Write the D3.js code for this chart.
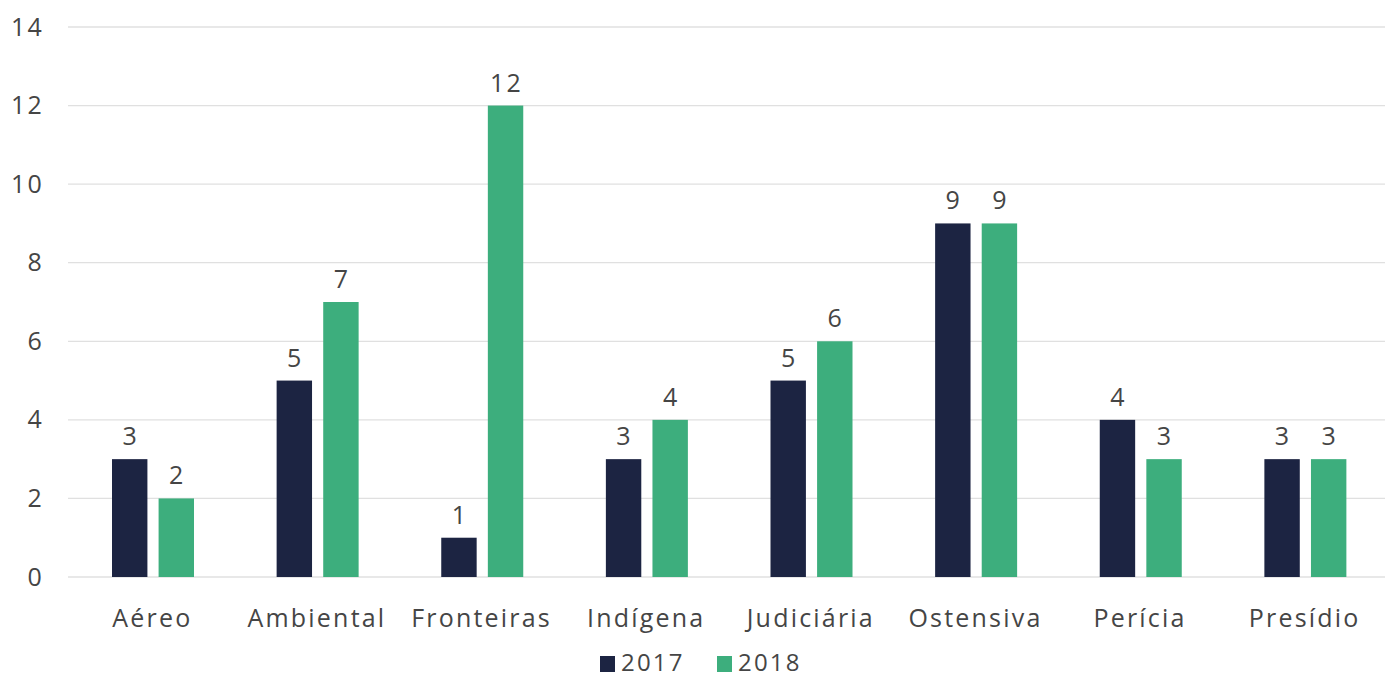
<!DOCTYPE html>
<html>
<head>
<meta charset="utf-8">
<script src="https://cdn.jsdelivr.net/npm/d3@7"></script>
<style>
  body { margin: 0; background: #fff; }
  text { font-family: "Open Sans", "Noto Sans", sans-serif; fill: #454545; letter-spacing: 2.2px; }
</style>
</head>
<body>
<div class="chart"></div>
<script>
// data
const categories = ["Aéreo", "Ambiental", "Fronteiras", "Indígena", "Judiciária", "Ostensiva", "Perícia", "Presídio"];
const years = ["2017", "2018"];
const values2017 = [3, 5, 1, 3, 5, 9, 4, 3];
const values2018 = [2, 7, 12, 4, 6, 9, 3, 3];
const yTicks = [0, 2, 4, 6, 8, 10, 12, 14];
const colors = ["#1c2442", "#3dae7d"];

const outerWidth = 1391, outerHeight = 678;
const margin = {top: 27, right: 6, bottom: 101, left: 68};
const width = outerWidth - margin.left - margin.right;
const height = outerHeight - margin.top - margin.bottom;

const svg = d3.select('.chart').append('svg')
    .attr('width', outerWidth)
    .attr('height', outerHeight)
    .append('g')
    .attr('transform', `translate(${margin.left},${margin.top})`);

const xScale = d3.scaleBand()
    .domain(categories)
    .range([0, width])
    .paddingInner(0)
    .paddingOuter(0);

const x1 = d3.scaleBand()
    .domain(years)
    .range([44, 126])
    .paddingInner(0.24);

const yScale = d3.scaleLinear()
    .domain([0, 14])
    .range([height, 0]);

// grid
svg.append('g')
    .selectAll('line')
    .data(yTicks)
    .join('line')
    .attr('x1', 0)
    .attr('x2', width)
    .attr('y1', d => yScale(d))
    .attr('y2', d => yScale(d))
    .attr('stroke', '#e0e0e0')
    .attr('stroke-width', 1.3);

// y axis labels
const yAxis = d3.axisLeft(yScale).tickValues(yTicks).tickSize(0).tickPadding(24);
svg.append('g')
    .attr('class', 'axis y-axis')
    .call(yAxis)
    .call(g => g.select('.domain').remove())
    .selectAll('text')
    .style('font-size', '25px')
    .attr('fill', '#454545');

// x axis labels
const xAxis = d3.axisBottom(xScale).tickSize(0);
svg.append('g')
    .attr('class', 'axis x-axis')
    .attr('transform', `translate(0,${height})`)
    .call(xAxis)
    .call(g => g.select('.domain').remove())
    .selectAll('text')
    .attr('y', 50)
    .attr('dy', 0)
    .attr('dx', 2)
    .style('font-size', '25px')
    .attr('fill', '#454545');

const rows = categories.map((c, i) => ({cat: c, vals: [values2017[i], values2018[i]]}));

const groups = svg.selectAll('.grp')
    .data(rows)
    .join('g')
    .attr('class', 'grp')
    .attr('transform', d => `translate(${xScale(d.cat)},0)`);

groups.selectAll('rect')
    .data(d => d.vals.map((v, j) => ({year: years[j], v: v, j: j})))
    .join('rect')
    .attr('x', d => x1(d.year))
    .attr('width', x1.bandwidth())
    .attr('y', d => yScale(d.v))
    .attr('height', d => height - yScale(d.v))
    .attr('fill', d => colors[d.j]);

groups.selectAll('.val')
    .data(d => d.vals.map((v, j) => ({year: years[j], v: v, j: j})))
    .join('text')
    .attr('class', 'val')
    .attr('x', d => x1(d.year) + x1.bandwidth() / 2 + 1)
    .attr('y', d => yScale(d.v) - 14)
    .attr('text-anchor', 'middle')
    .style('font-size', '25px')
    .text(d => d.v);

// legend
const legend = svg.append('g')
    .attr('transform', `translate(${600 - margin.left},${671 - margin.top})`);
const legendX = [0, 117];
years.forEach((y, j) => {
    legend.append('rect')
        .attr('x', legendX[j])
        .attr('y', -15)
        .attr('width', 15)
        .attr('height', 16)
        .attr('fill', colors[j]);
    legend.append('text')
        .attr('x', legendX[j] + 21)
        .attr('y', 0)
        .style('font-size', '24px')
        .text(y);
});
</script>
</body>
</html>
